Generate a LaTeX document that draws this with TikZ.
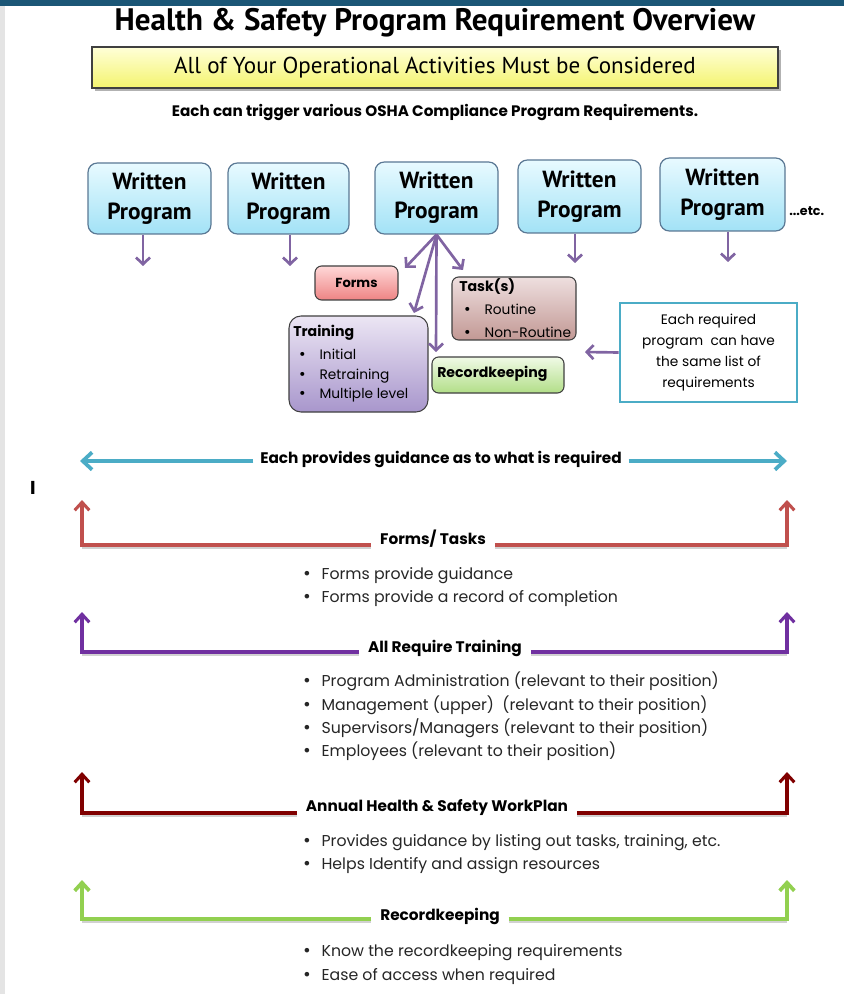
\documentclass[tikz,border=0pt]{standalone}
\usepackage{fontspec}
\setmainfont{Poppins}
\newfontfamily\headfont{PT Sans}
\newfontfamily\dotfont{DejaVu Sans}
\usetikzlibrary{arrows.meta}

\definecolor{topbar}{HTML}{1B5676}
\definecolor{edgegray}{HTML}{E4E4E4}
\definecolor{wpTop}{HTML}{E8FAFF}
\definecolor{wpBot}{HTML}{A2E2F6}
\definecolor{wpEdge}{HTML}{5A7894}
\definecolor{boxEdge}{HTML}{404040}
\definecolor{yelTop}{HTML}{FFFFD8}
\definecolor{yelBot}{HTML}{F4F46E}
\definecolor{arrowPurple}{HTML}{8064A2}
\definecolor{formsTop}{HTML}{FFD8D8}
\definecolor{formsBot}{HTML}{EE8484}
\definecolor{taskTop}{HTML}{EEDFDF}
\definecolor{taskBot}{HTML}{C29894}
\definecolor{trainTop}{HTML}{ECE6F4}
\definecolor{trainBot}{HTML}{A896CC}
\definecolor{recTop}{HTML}{F0FAE6}
\definecolor{recBot}{HTML}{B2DE88}
\definecolor{guideCyan}{HTML}{4BACC6}
\definecolor{formsRed}{HTML}{C0504D}
\definecolor{trainPurple}{HTML}{7030A0}
\definecolor{planMaroon}{HTML}{800000}
\definecolor{recGreen}{HTML}{92D050}

\newcommand\bdot{{\dotfont\textbullet}}
\newcommand\bline[1]{\makebox[14.5pt][l]{\bdot}#1}
\newcommand\sbline[1]{\makebox[16pt][l]{\bdot}#1}

\tikzset{
  wp/.style={draw=wpEdge, line width=0.9pt, rounded corners=7pt,
    top color=wpTop, bottom color=wpBot, align=center, inner sep=0pt,
    font=\headfont\bfseries\fontsize{17.5}{22.5}\selectfont},
  ybox/.style={draw=boxEdge, line width=1.1pt, top color=yelTop, bottom color=yelBot,
    minimum width=514.5pt, minimum height=30.75pt, inner sep=0pt,
    font=\headfont\fontsize{17.3}{20}\selectfont},
  gbox/.style={draw=boxEdge, line width=0.8pt, rounded corners=5pt, inner sep=0pt},
  parr/.style={draw=arrowPurple, line width=2pt,
    -{Straight Barb[length=5pt,width=10.5pt]}},
  brk/.style={line width=2.3pt, -{Straight Barb[length=6pt,width=11pt]}},
  lineshadow/.style={draw=black!18, line width=2.2pt, transform canvas={yshift=-1.6pt}},
  guide/.style={draw=guideCyan, line width=2.8pt, -{Straight Barb[length=7pt,width=13pt]}},
  blabel/.style={font=\bfseries\fontsize{11.5}{13}\selectfont, inner xsep=6.5pt, inner ysep=1pt},
  btext/.style={anchor=base west, inner sep=0pt, text=black!85, font=\fontsize{11.8}{14}\selectfont},
  smalltext/.style={anchor=base west, inner sep=0pt, font=\fontsize{10.3}{12}\selectfont},
  smallbold/.style={anchor=base west, inner sep=0pt, font=\bfseries\fontsize{10.6}{12}\selectfont},
}

\begin{document}
\begin{tikzpicture}[x=0.75pt,y=-0.75pt]
\useasboundingbox (0,0) rectangle (844,994);
\fill[white] (0,0) rectangle (844,994);
\fill[topbar] (0,0) rectangle (844,6);
\fill[edgegray] (0,6) rectangle (5,994);

% heading block
\node[font=\headfont\bfseries\fontsize{23.3}{26}\selectfont] (title) at (435,23)
  {Health \& Safety Program Requirement Overview};
\fill[black!30] (95,50) rectangle (781,91);
\node[ybox] (banner) at (435,67.5) {All of Your Operational Activities Must be Considered};
\node[font=\bfseries\fontsize{11.4}{13}\selectfont] (trigger) at (435,113)
  {Each can trigger various OSHA Compliance Program Requirements.};

% written program boxes
\node[wp, minimum width=92.25pt, minimum height=53.25pt] (wp1) at (149.5,198.5) {Written\\Program};
\node[wp, minimum width=90.75pt, minimum height=53.25pt] (wp2) at (288.5,198.5) {Written\\Program};
\node[wp, minimum width=92.25pt, minimum height=54pt] (wp3) at (436.5,198) {Written\\Program};
\node[wp, minimum width=92.25pt, minimum height=54.75pt] (wp4) at (579.5,196.5) {Written\\Program};
\node[wp, minimum width=93.75pt, minimum height=54.75pt] (wp5) at (722.5,194.5) {Written\\Program};
\node[anchor=base west, inner sep=0pt, font=\bfseries\fontsize{9.5}{11}\selectfont] (etc) at (789,216) {...etc.};

\coordinate (d1) at (143,266);
\coordinate (d2) at (290,266);
\coordinate (d4) at (575,263);
\coordinate (d5) at (728,262);
\draw[parr] (wp1.south -| d1) -- (d1);
\draw[parr] (wp2.south -| d2) -- (d2);
\draw[parr] (wp4.south -| d4) -- (d4);
\draw[parr] (wp5.south -| d5) -- (d5);

% requirement boxes under the middle program
\node[gbox, top color=formsTop, bottom color=formsBot, minimum width=62.25pt, minimum height=25.5pt,
  font=\bfseries\fontsize{9.8}{11}\selectfont] (forms) at (356.5,283) {Forms};
\node[gbox, top color=taskTop, bottom color=taskBot, minimum width=93pt, minimum height=47.25pt] (task) at (514,308.5) {};
\node[gbox, rounded corners=9pt, top color=trainTop, bottom color=trainBot, minimum width=104.25pt, minimum height=72pt] (train) at (358.5,364) {};
\node[gbox, top color=recTop, bottom color=recBot, minimum width=99pt, minimum height=27pt] (rec) at (498,375) {};
\node[draw=guideCyan, line width=2pt, fill=white, minimum width=132.75pt, minimum height=74.25pt,
  align=center, inner sep=0pt, font=\fontsize{10.3}{15.75}\selectfont] (each) at (708.5,352.5)
  {Each required\\program\ \ can have\\the same list of\\requirements};

\node[smallbold] (taskhd) at (459,292) {Task(s)};
\node[smalltext] (task1) at (463,315) {\sbline{Routine}};
\node[smalltext] (task2) at (463,338) {\sbline{Non-Routine}};
\node[smallbold] (trainhd) at (293,336) {Training};
\node[smalltext] (train1) at (298,359) {\sbline{Initial}};
\node[smalltext] (train2) at (298,379) {\sbline{Retraining}};
\node[smalltext] (train3) at (298,398) {\sbline{Multiple level}};
\node[smallbold] (rechd) at (437,377) {Recordkeeping};

\coordinate (tF) at (405,268);
\coordinate (tT) at (414,313);
\coordinate (tR) at (436,352);
\coordinate (tK) at (463,270);
\coordinate (tE) at (585,352);
\draw[parr] (wp3.south) -- (tF);
\draw[parr] (wp3.south) -- (tT);
\draw[parr] (wp3.south) -- (tR);
\draw[parr] (wp3.south) -- (tK);
\draw[parr] (each.west) -- (tE);

% guidance line
\coordinate (gL) at (80,461);
\coordinate (gR) at (787,461);
\node[blabel, inner xsep=5pt] (glbl) at (441,459) {Each provides guidance as to what is required};
\draw[guide] (glbl.west |- gL) -- (gL);
\draw[guide] (glbl.east |- gR) -- (gR);

\node[inner sep=0pt, font=\bfseries\fontsize{14}{16}\selectfont] (cursor) at (33,488) {I};

% forms / tasks
\coordinate (fL) at (82,500);
\coordinate (fR) at (787,500);
\coordinate (fY) at (0,545);
\node[blabel] (flbl) at (433,539) {Forms/ Tasks};
\draw[lineshadow] (82,545) -- (flbl.west |- fY) (flbl.east |- fY) -- (787,545);
\draw[brk, formsRed] (flbl.west |- fY) -| (fL);
\draw[brk, formsRed] (flbl.east |- fY) -| (fR);
\node[btext] (f1) at (302,579) {\bline{Forms provide guidance}};
\node[btext] (f2) at (302,602) {\bline{Forms provide a record of completion}};

% training
\coordinate (pL) at (82,612);
\coordinate (pR) at (787,612);
\coordinate (pY) at (0,652);
\node[blabel] (plbl) at (445,648) {All Require Training};
\draw[lineshadow] (82,652) -- (plbl.west |- pY) (plbl.east |- pY) -- (787,652);
\draw[brk, trainPurple] (plbl.west |- pY) -| (pL);
\draw[brk, trainPurple] (plbl.east |- pY) -| (pR);
\node[btext] (p1) at (302,686) {\bline{Program Administration (relevant to their position)}};
\node[btext] (p2) at (302,710) {\bline{Management (upper)\ \ (relevant to their position)}};
\node[btext] (p3) at (302,733) {\bline{Supervisors/Managers (relevant to their position)}};
\node[btext] (p4) at (302,756) {\bline{Employees (relevant to their position)}};

% work plan
\coordinate (mL) at (82,772);
\coordinate (mR) at (787,772);
\coordinate (mY) at (0,813);
\node[blabel] (mlbl) at (437,808) {Annual Health \& Safety WorkPlan};
\draw[lineshadow] (82,813) -- (mlbl.west |- mY) (mlbl.east |- mY) -- (787,813);
\draw[brk, planMaroon] (mlbl.west |- mY) -| (mL);
\draw[brk, planMaroon] (mlbl.east |- mY) -| (mR);
\node[btext] (m1) at (302,846) {\bline{Provides guidance by listing out tasks, training, etc.}};
\node[btext] (m2) at (302,869) {\bline{Helps Identify and assign resources}};

% recordkeeping
\coordinate (kL) at (82,880);
\coordinate (kR) at (787,880);
\coordinate (kY) at (0,919);
\node[blabel] (klbl) at (440,916) {Recordkeeping};
\draw[lineshadow] (82,919) -- (klbl.west |- kY) (klbl.east |- kY) -- (787,919);
\draw[brk, recGreen, line width=2.8pt] (klbl.west |- kY) -| (kL);
\draw[brk, recGreen, line width=2.8pt] (klbl.east |- kY) -| (kR);
\node[btext] (k1) at (302,956) {\bline{Know the recordkeeping requirements}};
\node[btext] (k2) at (302,980) {\bline{Ease of access when required}};
\end{tikzpicture}
\end{document}
